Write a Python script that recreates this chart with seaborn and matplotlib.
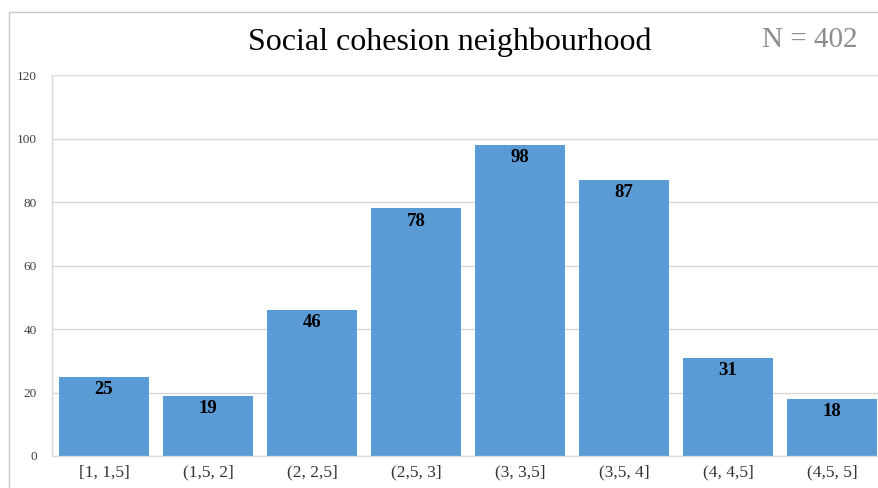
import matplotlib
matplotlib.use('Agg')
import matplotlib.pyplot as plt
from matplotlib.patches import Rectangle
import seaborn as sns

categories = ['[1, 1,5]', '(1,5, 2]', '(2, 2,5]', '(2,5, 3]',
              '(3, 3,5]', '(3,5, 4]', '(4, 4,5]', '(4,5, 5]']
counts = [25, 19, 46, 78, 98, 87, 31, 18]
yticks = [0, 20, 40, 60, 80, 100, 120]
title = 'Social cohesion neighbourhood'
n_label = 'N = 402'

sns.set_style('white')
plt.rcParams['font.family'] = ['Liberation Serif', 'DejaVu Serif']

fig = plt.figure(figsize=(8.79, 4.88), dpi=100)
ax = fig.add_axes([52/879, 32/488, 832/879, 381/488])

sns.barplot(x=categories, y=counts, color='#5B9BD5', saturation=1,
            width=0.865, linewidth=0, ax=ax)

ax.set_ylim(0, 120)
ax.set_xlim(-0.5, len(categories) - 0.5)
ax.set_yticks(yticks)
ax.yaxis.grid(True, color='#d9d9d9', lw=1)
ax.set_axisbelow(True)
ax.tick_params(axis='y', labelsize=9.5, labelcolor='#404040', length=0, pad=11)
ax.tick_params(axis='x', labelsize=12.5, labelcolor='#333333', length=0, pad=6)
ax.set_xlabel('')
ax.set_ylabel('')
for s in ['top', 'right']:
    ax.spines[s].set_visible(False)
for s in ['left', 'bottom']:
    ax.spines[s].set_color('#d9d9d9')
    ax.spines[s].set_linewidth(1)

for i, v in enumerate(counts):
    ax.annotate(str(v), (i, v), xytext=(0, -3), textcoords='offset points',
                ha='center', va='top', fontsize=13.5, fontweight='bold',
                color='black')

fig.text(450/879, 1 - 42/488, title, ha='center', va='center',
         fontsize=23, color='black')
fig.text(858/879, 1 - 40/488, n_label, ha='right', va='center',
         fontsize=21, color='#8c8c8c')

fig.patches.append(Rectangle((9/879, -0.1), 1.2, 1 - 12/488 + 0.1,
                             transform=fig.transFigure, fill=False,
                             edgecolor='#c8c8c8', lw=1, clip_on=False))

fig.savefig('out.png', dpi=100)
